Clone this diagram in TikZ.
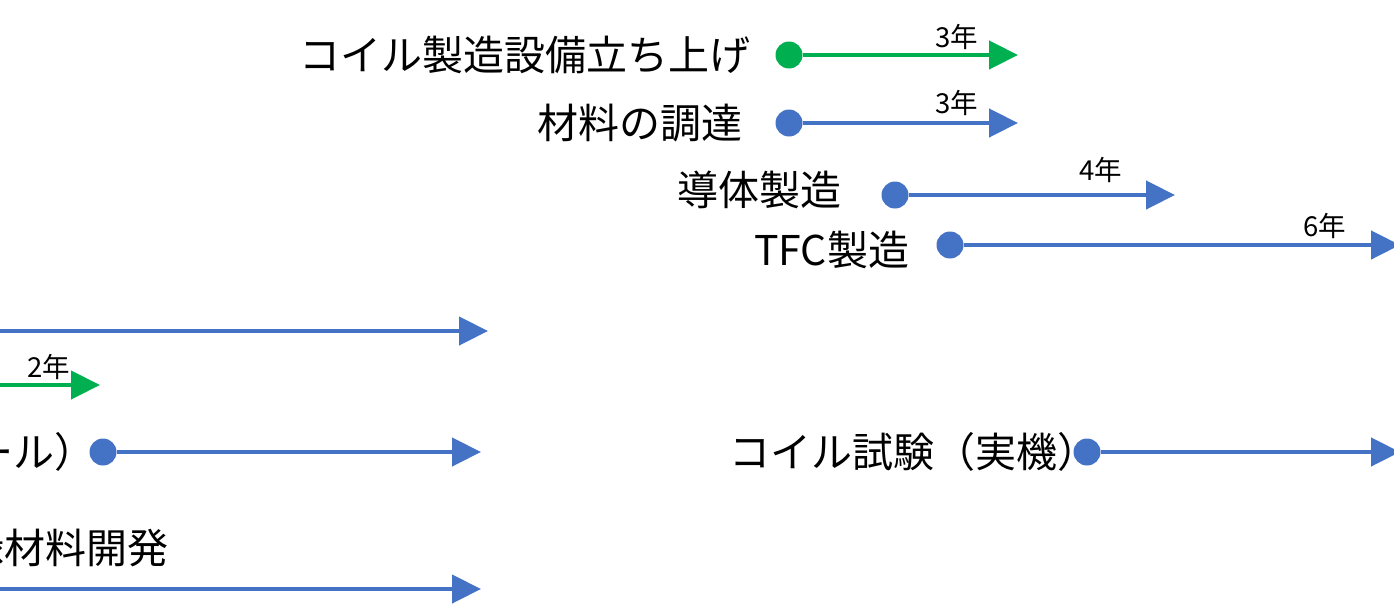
\documentclass[tikz,border=0pt]{standalone}
\usepackage{fontspec}
\setmainfont{Noto Sans CJK JP}
\usetikzlibrary{arrows.meta,positioning}

\definecolor{planblue}{HTML}{4472C4}
\definecolor{plangreen}{HTML}{00B050}

\tikzset{
  dot/.style={circle, fill, minimum size=27pt, inner sep=0pt},
  task/.style={inner sep=0pt, font=\fontsize{41}{48}\selectfont},
  years/.style={inner sep=0pt, font=\fontsize{27.5}{30}\selectfont},
  span/.style={line width=4.5pt, -{Triangle[length=29pt,width=28pt]}},
}

\begin{document}
\begin{tikzpicture}[x=1pt, y=-1pt]
  \useasboundingbox (0,0) rectangle (1394,605);
  \clip (0,0) rectangle (1394,605);
  % coil manufacturing, upper right
  \node [dot, plangreen] (setup) at (789,55) {};
  \node [task, left=25pt of setup] (setup text) {コイル製造設備立ち上げ};
  \coordinate (setup end) at (1018,55);
  \draw [span, plangreen] (setup) -- (setup end);
  \node [years] (setup years) at (957,37) {3年};

  \node [dot, planblue] (supply) at (789,123) {};
  \node [task, left=33pt of supply] (supply text) {材料の調達};
  \coordinate (supply end) at (1018,123);
  \draw [span, planblue] (supply) -- (supply end);
  \node [years] (supply years) at (957,103) {3年};

  \node [dot, planblue] (conductor) at (895,195) {};
  \node [task, left=40pt of conductor, yshift=5pt] (conductor text) {導体製造};
  \coordinate (conductor end) at (1175,195);
  \draw [span, planblue] (conductor) -- (conductor end);
  \node [years] (conductor years) at (1101,170) {4年};

  \node [dot, planblue] (tfc) at (950,245) {};
  \node [task, left=27pt of tfc, yshift=-5pt] (tfc text) {TFC製造};
  \coordinate (tfc end) at (1400,245);
  \draw [span, planblue] (tfc) -- (tfc end);
  \node [years] (tfc years) at (1325,226) {6年};

  % rows cut at the left edge
  \coordinate (long start) at (-20,331);
  \coordinate (long end) at (488,331);
  \draw [span, planblue] (long start) -- (long end);

  \coordinate (short start) at (-20,385);
  \coordinate (short end) at (100,385);
  \draw [span, plangreen] (short start) -- (short end);
  \node [years] (short years) at (49,367) {2年};

  \node [dot, planblue] (model) at (103,452) {};
  \node [task, left=-6pt of model] (model text) {ール）};
  \coordinate (model end) at (481,452);
  \draw [span, planblue] (model) -- (model end);

  \node [dot, planblue] (real) at (1087,452) {};
  \node [task, left=-25pt of real] (real text) {コイル試験（実機）};
  \coordinate (real end) at (1400,452);
  \draw [span, planblue] (real) -- (real end);

  \node [task, anchor=east] (insul text) at (169,548) {縁材料開発};
  \coordinate (insul start) at (-20,589);
  \coordinate (insul end) at (481,589);
  \draw [span, planblue] (insul start) -- (insul end);
\end{tikzpicture}
\end{document}
